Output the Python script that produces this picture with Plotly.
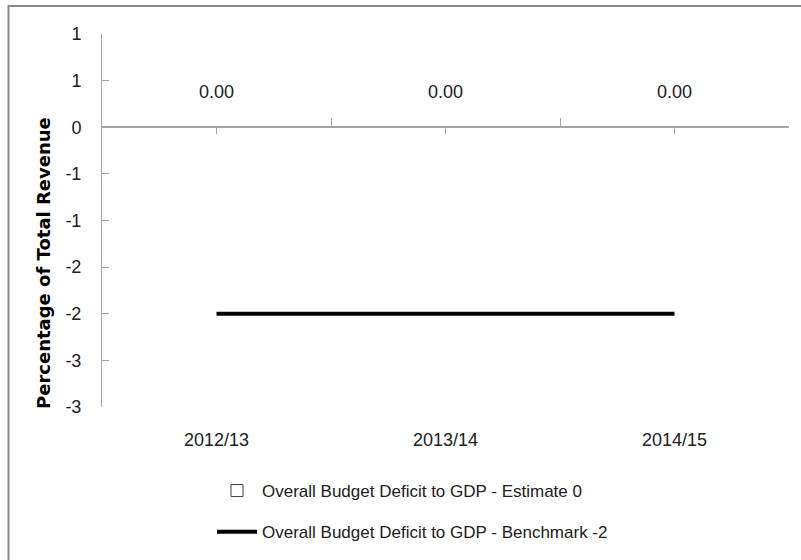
import plotly.graph_objects as go

# ---- data ----
categories = ["2012/13", "2013/14", "2014/15"]
estimate_values = [0, 0, 0]
benchmark_values = [-2, -2, -2]
estimate_name = "Overall Budget Deficit to GDP - Estimate 0"
benchmark_name = "Overall Budget Deficit to GDP - Benchmark -2"
y_tick_values = [1, 0.5, 0, -0.5, -1, -1.5, -2, -2.5, -3]
y_tick_labels = ["1", "1", "0", "-1", "-1", "-2", "-2", "-3", "-3"]
y_title = "Percentage of Total Revenue"

# ---- layout geometry ----
W, H = 801, 560
L, R, T, B = 102, 12, 34, 153
pw, ph = W - L - R, H - T - B
y_min, y_max = -3, 1
zero_pos = (0 - y_min) / (y_max - y_min)

FONT = "Liberation Sans, Arial, sans-serif"
AXIS_GRAY = "#a6a6a6"
TEXT = "#202020"

def px_x(p):
    return (p - L) / pw

def px_y(p):
    return (H - B - p) / ph

fig = go.Figure()

fig.add_trace(go.Bar(
    x=categories, y=estimate_values, name=estimate_name,
    marker=dict(color="white", line=dict(color="#404040", width=1)),
    width=0.6, xaxis="x2", yaxis="y", legendgroup="a",
))
fig.add_trace(go.Scatter(
    x=categories, y=benchmark_values, name=benchmark_name, mode="lines",
    line=dict(color="black", width=4), xaxis="x", yaxis="y", legendgroup="b",
))
# invisible anchor trace for the category-boundary tick axis
fig.add_trace(go.Scatter(
    x=categories, y=estimate_values, mode="markers",
    marker=dict(opacity=0), showlegend=False, hoverinfo="skip",
    xaxis="x3", yaxis="y",
))

# data labels for the estimate series
for c, v in zip(categories, estimate_values):
    fig.add_annotation(x=c, y=v, xref="x2", yref="y", text=f"{v:.2f}",
                       showarrow=False, yshift=35,
                       font=dict(family=FONT, size=18, color=TEXT))

# y-axis title as rotated text
fig.add_annotation(x=px_x(43), y=px_y(263), xref="paper", yref="paper",
                   xanchor="center", yanchor="middle",
                   text=f"<b>{y_title}</b>", textangle=-90, showarrow=False,
                   font=dict(family="DejaVu Sans, sans-serif", size=18, color="black"))

# outer chart border
fig.add_shape(type="rect", xref="paper", yref="paper",
              x0=px_x(8.5), x1=px_x(W + 20), y0=px_y(H + 20), y1=px_y(6),
              line=dict(color="#878787", width=2), fillcolor="rgba(0,0,0,0)")

n = len(categories)
fig.update_layout(
    width=W, height=H,
    margin=dict(l=L, r=R, t=T, b=B, pad=0, autoexpand=False),
    paper_bgcolor="white", plot_bgcolor="white",
    showlegend=True,
    legend=dict(xref="container", yref="container",
                x=212 / W, y=1 - 473 / H, xanchor="left", yanchor="top",
                font=dict(family=FONT, size=17, color=TEXT),
                tracegroupgap=16, itemwidth=40, bgcolor="rgba(0,0,0,0)"),
    font=dict(family=FONT, color=TEXT),
    bargap=0.4,
    xaxis=dict(type="category", range=[-0.5, n - 0.5], showline=False,
               ticks="", showgrid=False, zeroline=False, automargin=False,
               tickfont=dict(family=FONT, size=18, color=TEXT),
               ticklabelstandoff=20),
    xaxis2=dict(type="category", range=[-0.5, n - 0.5], overlaying="x",
                anchor="free", position=zero_pos, side="bottom",
                showline=True, linecolor=AXIS_GRAY, linewidth=2,
                ticks="outside", ticklen=6, tickcolor=AXIS_GRAY, tickwidth=1,
                showticklabels=False, showgrid=False, zeroline=False),
    xaxis3=dict(type="category", range=[-0.5, n - 0.5], overlaying="x",
                anchor="free", position=zero_pos, side="bottom",
                showline=False, tickson="boundaries",
                ticks="inside", ticklen=9, tickcolor=AXIS_GRAY, tickwidth=1,
                showticklabels=False, showgrid=False, zeroline=False),
    yaxis=dict(range=[y_min, y_max], tickmode="array",
               tickvals=y_tick_values, ticktext=y_tick_labels,
               showline=True, linecolor=AXIS_GRAY, linewidth=1,
               ticks="inside", ticklen=7, tickcolor=AXIS_GRAY,
               showgrid=False, zeroline=False, automargin=False,
               tickfont=dict(family=FONT, size=18, color=TEXT),
               ticklabelstandoff=16),
)

fig.write_html("out.html")
